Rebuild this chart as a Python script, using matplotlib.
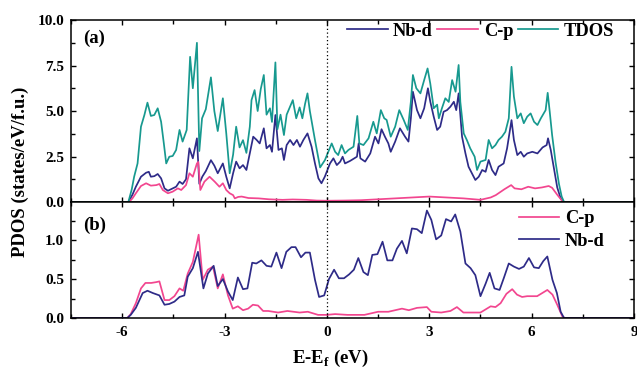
import matplotlib
matplotlib.use("Agg")
import matplotlib.pyplot as plt
from matplotlib.ticker import MultipleLocator, FormatStrFormatter

plt.rcParams['font.family'] = ['Liberation Serif', 'DejaVu Serif']
plt.rcParams['font.weight'] = 'bold'
plt.rcParams['axes.unicode_minus'] = False
plt.rcParams['mathtext.fontset'] = 'custom'
plt.rcParams['mathtext.rm'] = 'Liberation Serif'
plt.rcParams['mathtext.bf'] = 'Liberation Serif:bold'

NB_COL = '#2E2B88'
CP_COL = '#F2468F'
TD_COL = '#17998F'

# ---- panel (a): total and projected DOS ----
tdos_x = [-7.5, -5.82, -5.72, -5.65, -5.55, -5.45, -5.35, -5.26, -5.16, -5.06,
          -4.96, -4.86, -4.78, -4.71, -4.62, -4.52, -4.42, -4.32, -4.23, -4.11,
          -4.01, -3.93, -3.81, -3.74, -3.66, -3.55, -3.4, -3.3, -3.2, -3.05,
          -2.95, -2.85, -2.75, -2.66, -2.56, -2.46, -2.36, -2.26, -2.21, -2.12,
          -2.03, -1.94, -1.85, -1.77, -1.67, -1.61, -1.51, -1.45, -1.36, -1.26,
          -1.18, -1.0, -0.9, -0.8, -0.72, -0.64, -0.57, -0.5, -0.35, -0.2,
          -0.06, 0.04, 0.14, 0.24, 0.33, 0.43, 0.53, 0.63, 0.78, 0.89,
          0.95, 1.07, 1.22, 1.36, 1.46, 1.58, 1.68, 1.75, 1.87, 2.0,
          2.12, 2.25, 2.37, 2.46, 2.52, 2.62, 2.74, 2.85, 2.95, 3.03,
          3.13, 3.23, 3.28, 3.37, 3.47, 3.57, 3.67, 3.77, 3.86, 3.91,
          4.01, 4.1, 4.2, 4.33, 4.4, 4.5, 4.65, 4.74, 4.84, 4.94,
          5.03, 5.13, 5.23, 5.33, 5.41, 5.48, 5.58, 5.68, 5.77, 5.87,
          5.97, 6.07, 6.17, 6.27, 6.41, 6.47, 6.53, 6.6, 6.7, 6.8,
          6.88, 6.95, 9.0]
tdos_y = [0, 0, 0.7, 1.39, 2.12, 4.14, 4.78, 5.46, 4.73, 4.78,
          5.15, 4.41, 3.22, 2.12, 2.49, 2.53, 2.86, 3.96, 3.32, 3.96,
          7.98, 6.25, 8.75, 2.8, 4.6, 5.1, 6.85, 5.0, 3.9, 5.7,
          3.77, 1.58, 2.6, 4.14, 3.0, 3.4, 2.7, 4.14, 5.6, 6.15,
          5.0, 6.2, 6.98, 4.8, 5.15, 4.4, 7.67, 4.0, 4.8, 3.68,
          4.8, 5.6, 4.6, 5.2, 4.6, 5.4, 5.97, 5.0, 3.4, 1.9,
          2.3, 2.76, 3.22, 2.76, 2.58, 3.13, 2.67, 2.86, 3.04, 4.73,
          3.22, 3.13, 3.5, 4.41, 3.77, 5.05, 4.6, 4.51, 3.59, 4.14,
          5.05, 4.51, 3.96, 5.51, 6.98, 6.25, 5.97, 6.7, 7.34, 6.5,
          5.15, 5.35, 4.6, 5.15, 5.7, 5.5, 6.7, 6.06, 7.53, 5.5,
          3.77, 3.41, 2.95, 2.49, 1.76, 2.22, 2.31, 3.41, 2.95, 3.13,
          3.41, 3.59, 3.86, 4.6, 7.43, 5.8, 4.6, 4.87, 4.33, 4.69,
          4.87, 4.41, 4.23, 4.6, 5.05, 6.0, 4.96, 3.68, 2.2, 1.0,
          0.3, 0, 0]

nbd_x = [-7.5, -5.82, -5.7, -5.6, -5.45, -5.3, -5.22, -5.16, -5.06, -4.96,
         -4.86, -4.76, -4.66, -4.52, -4.42, -4.32, -4.23, -4.13, -4.03, -3.93,
         -3.81, -3.74, -3.65, -3.55, -3.4, -3.3, -3.2, -3.05, -2.95, -2.85,
         -2.75, -2.66, -2.56, -2.46, -2.36, -2.26, -2.16, -2.06, -1.97, -1.85,
         -1.77, -1.67, -1.61, -1.51, -1.42, -1.32, -1.26, -1.18, -1.08, -0.98,
         -0.88, -0.79, -0.69, -0.57, -0.45, -0.35, -0.25, -0.16, -0.06, 0.09,
         0.19, 0.29, 0.39, 0.46, 0.53, 0.68, 0.88, 0.93, 0.98, 1.12,
         1.27, 1.41, 1.51, 1.6, 1.7, 1.8, 1.87, 2.0, 2.14, 2.29,
         2.39, 2.46, 2.52, 2.64, 2.74, 2.85, 2.96, 3.03, 3.13, 3.23,
         3.32, 3.42, 3.52, 3.62, 3.72, 3.79, 3.86, 3.96, 4.06, 4.15,
         4.25, 4.35, 4.45, 4.55, 4.65, 4.74, 4.84, 4.94, 5.03, 5.18,
         5.28, 5.41, 5.48, 5.58, 5.68, 5.77, 5.87, 6.02, 6.17, 6.32,
         6.44, 6.48, 6.56, 6.66, 6.75, 6.85, 6.93, 9.0]
nbd_y = [0, 0, 0.4, 0.84, 1.39, 1.61, 1.66, 1.39, 1.42, 1.54,
         1.30, 0.75, 0.62, 0.75, 0.84, 1.12, 0.99, 1.25, 2.95, 2.40,
         3.50, 1.0, 1.4, 1.7, 2.3, 2.0, 1.58, 2.12, 1.39, 0.75,
         1.58, 2.22, 1.85, 2.03, 1.76, 2.67, 3.59, 3.41, 3.22, 4.05,
         2.95, 3.13, 2.76, 4.78, 2.86, 2.95, 2.31, 3.13, 3.41, 3.13,
         3.41, 3.04, 3.41, 3.77, 3.04, 2.12, 1.30, 1.03, 1.4, 2.12,
         2.4, 2.03, 2.22, 2.49, 2.12, 2.26, 2.49, 3.22, 2.4, 2.22,
         2.67, 3.59, 3.22, 4.0, 3.59, 3.22, 2.76, 3.32, 4.05, 3.59,
         3.32, 4.6, 6.06, 5.05, 4.6, 5.15, 6.25, 5.51, 4.69, 3.96,
         4.14, 4.96, 5.05, 5.24, 5.51, 5.05, 5.97, 3.59, 2.67, 1.94,
         1.58, 1.21, 1.39, 1.76, 1.66, 2.31, 1.76, 1.48, 1.94, 2.12,
         2.95, 4.5, 3.41, 2.58, 2.76, 2.49, 2.67, 2.76, 2.67, 3.0,
         3.13, 3.5, 2.86, 1.76, 0.8, 0.2, 0, 0]

cp_x = [-7.5, -5.8, -5.7, -5.6, -5.45, -5.3, -5.16, -5.0, -4.91, -4.81,
        -4.66, -4.52, -4.37, -4.27, -4.13, -4.03, -3.93, -3.81, -3.77, -3.71,
        -3.59, -3.44, -3.29, -3.15, -3.05, -2.95, -2.85, -2.75, -2.7, -2.6,
        -2.5, -2.3, -2.0, -1.7, -1.3, -1.0, -0.6, -0.3, 0.0, 0.5,
        1.0, 1.5, 2.0, 2.5, 3.0, 3.5, 4.0, 4.5, 4.8, 4.95,
        5.2, 5.4, 5.5, 5.7, 5.9, 6.1, 6.3, 6.5, 6.6, 6.75,
        6.9, 6.97, 9.0]
cp_y = [0, 0, 0.2, 0.48, 0.88, 1.03, 0.9, 0.93, 0.99, 0.66,
        0.48, 0.57, 0.75, 0.66, 0.93, 1.58, 1.39, 2.12, 2.2, 0.66,
        1.12, 1.39, 1.12, 0.84, 1.03, 0.66, 0.48, 0.38, 0.2, 0.28,
        0.3, 0.22, 0.2, 0.15, 0.12, 0.14, 0.12, 0.08, 0.07, 0.08,
        0.1, 0.15, 0.2, 0.25, 0.3, 0.25, 0.2, 0.12, 0.25, 0.38,
        0.7, 0.93, 0.75, 0.7, 0.84, 0.75, 0.8, 0.88, 0.78, 0.4,
        0.05, 0, 0]

# ---- panel (b): projected DOS, coarse grid ----
b_nbd_x = [-7.5, -5.85, -5.75, -5.6, -5.4, -5.26, -5.1, -4.91, -4.76, -4.62,
           -4.47, -4.32, -4.18, -4.08, -3.93, -3.78, -3.62, -3.49, -3.32, -3.2,
           -3.05, -2.9, -2.76, -2.61, -2.46, -2.33, -2.19, -2.07, -1.92, -1.77,
           -1.63, -1.48, -1.33, -1.19, -1.04, -0.92, -0.76, -0.63, -0.5, -0.35,
           -0.23, -0.08, 0.06, 0.21, 0.35, 0.5, 0.65, 0.79, 0.92, 1.07,
           1.2, 1.33, 1.48, 1.63, 1.77, 1.92, 2.05, 2.2, 2.34, 2.49,
           2.64, 2.78, 2.93, 3.06, 3.2, 3.35, 3.49, 3.64, 3.76, 3.91,
           4.06, 4.21, 4.35, 4.5, 4.65, 4.77, 4.91, 5.06, 5.19, 5.33,
           5.48, 5.63, 5.77, 5.92, 6.07, 6.21, 6.34, 6.46, 6.61, 6.74,
           6.85, 6.95, 9.0]
b_nbd_y = [0, 0, 0.04, 0.13, 0.32, 0.35, 0.32, 0.29, 0.17, 0.18,
           0.21, 0.27, 0.29, 0.53, 0.64, 0.85, 0.38, 0.57, 0.67, 0.41,
           0.5, 0.34, 0.23, 0.52, 0.37, 0.38, 0.71, 0.70, 0.74, 0.67,
           0.66, 0.84, 0.64, 0.85, 0.91, 0.91, 0.78, 0.84, 0.84, 0.49,
           0.27, 0.29, 0.50, 0.62, 0.51, 0.51, 0.56, 0.62, 0.77, 0.59,
           0.55, 0.81, 0.82, 0.98, 0.74, 0.74, 0.89, 0.99, 0.83, 1.15,
           1.14, 1.09, 1.38, 1.26, 1.01, 1.06, 1.27, 1.24, 1.33, 1.11,
           0.70, 0.64, 0.55, 0.28, 0.44, 0.58, 0.38, 0.36, 0.52, 0.70,
           0.66, 0.63, 0.66, 0.77, 0.65, 0.64, 0.73, 0.79, 0.49, 0.32,
           0.08, 0.0, 0.0]

b_cp_x = [-7.5, -5.85, -5.75, -5.6, -5.45, -5.32, -5.15, -5.01, -4.91, -4.76,
          -4.62, -4.47, -4.32, -4.21, -4.08, -3.93, -3.76, -3.64, -3.49, -3.34,
          -3.2, -3.05, -2.9, -2.76, -2.61, -2.46, -2.31, -2.17, -2.02, -1.87,
          -1.72, -1.43, -1.16, -0.8, -0.56, -0.26, -0.01, 0.24, 0.6, 1.1,
          1.5, 1.8, 2.2, 2.4, 2.64, 2.93, 3.06, 3.35, 3.62, 3.81,
          4.0, 4.5, 4.8, 4.94, 5.09, 5.26, 5.43, 5.57, 5.72, 5.87,
          6.16, 6.31, 6.46, 6.61, 6.75, 6.9, 6.97, 9.0]
b_cp_y = [0, 0, 0.05, 0.19, 0.38, 0.45, 0.45, 0.46, 0.47, 0.23,
          0.23, 0.28, 0.38, 0.35, 0.57, 0.72, 1.07, 0.49, 0.62, 0.66,
          0.38, 0.56, 0.29, 0.12, 0.15, 0.10, 0.12, 0.17, 0.16, 0.09,
          0.09, 0.07, 0.09, 0.07, 0.08, 0.04, 0.04, 0.05, 0.04, 0.04,
          0.08, 0.08, 0.12, 0.10, 0.13, 0.14, 0.08, 0.07, 0.09, 0.14,
          0.07, 0.07, 0.15, 0.14, 0.19, 0.31, 0.37, 0.30, 0.27, 0.28,
          0.28, 0.32, 0.36, 0.30, 0.17, 0.02, 0, 0]

x_ticks = [-6, -3, 0, 3, 6, 9]

fig = plt.figure(figsize=(6.37, 3.73), dpi=100)
ax1 = fig.add_axes([0.1115, 0.4584, 0.8838, 0.4879])
ax2 = fig.add_axes([0.1115, 0.1475, 0.8838, 0.3110])

lw = 1.25
ax1.plot(nbd_x, nbd_y, color=NB_COL, lw=lw, label='Nb-d')
ax1.plot(cp_x, cp_y, color=CP_COL, lw=lw, label='C-p')
ax1.plot(tdos_x, tdos_y, color=TD_COL, lw=lw, label='TDOS')
ax2.plot(b_cp_x, b_cp_y, color=CP_COL, lw=lw, label='C-p')
ax2.plot(b_nbd_x, b_nbd_y, color=NB_COL, lw=lw, label='Nb-d')

for ax in (ax1, ax2):
    ax.axvline(0, color='k', ls=(0, (1, 2)), lw=0.9)
    ax.set_xlim(-7.5, 9)
    ax.set_xticks(x_ticks)
    ax.xaxis.set_minor_locator(MultipleLocator(1.5))
    ax.tick_params(which='both', direction='in', top=True, right=True,
                   width=1.0, labelsize=11, pad=5)
    ax.tick_params(which='major', length=3.5)
    ax.tick_params(which='minor', length=2.8)
    for s in ax.spines.values():
        s.set_linewidth(1.1)
    for lab in ax.get_xticklabels() + ax.get_yticklabels():
        lab.set_fontweight('bold')

ax1.set_ylim(0, 10)
ax1.set_yticks([0, 2.5, 5, 7.5, 10])
ax1.yaxis.set_minor_locator(MultipleLocator(1.25))
ax1.yaxis.set_major_formatter(FormatStrFormatter('%.1f'))
ax1.tick_params(axis='x', labelbottom=False)

ax2.set_ylim(0, 1.49)
ax2.set_yticks([0, 0.5, 1.0])
ax2.yaxis.set_minor_locator(MultipleLocator(0.25))
ax2.yaxis.set_major_formatter(FormatStrFormatter('%.1f'))
ax2.tick_params(axis='x', pad=6)

ax1.text(0.021, 0.90, '(a)', transform=ax1.transAxes, fontsize=13.5,
         fontweight='bold', va='center')
ax2.text(0.021, 0.80, '(b)', transform=ax2.transAxes, fontsize=13.5,
         fontweight='bold', va='center')

ax1.legend(loc='upper right', bbox_to_anchor=(0.965, 0.985), ncol=3,
           frameon=False, handlelength=2.2, handletextpad=0.3,
           columnspacing=0.25, borderpad=0, borderaxespad=0,
           prop={'weight': 'bold', 'size': 13.3})
ax2.legend(loc='upper right', bbox_to_anchor=(0.948, 0.93), ncol=1,
           frameon=False, handlelength=2.2, handletextpad=0.3,
           labelspacing=0.3, borderpad=0, borderaxespad=0,
           prop={'weight': 'bold', 'size': 13.3})

fig.text(20 / 637, 0.539, 'PDOS (states/eV/f.u.)', rotation=90,
         ha='center', va='center', fontsize=13.5, fontweight='bold')
fig.text(330 / 637, 0.028, r'E-E$_{\mathbf{f}}$ (eV)', ha='center',
         va='baseline', fontsize=13.5, fontweight='bold')

fig.savefig('out.png', dpi=100)
